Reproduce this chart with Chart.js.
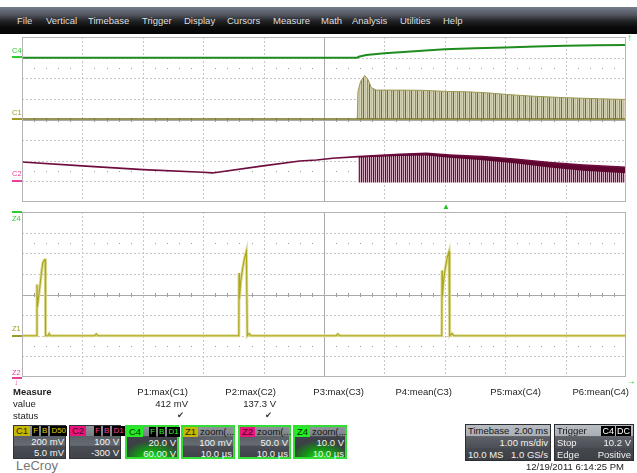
<!DOCTYPE html>
<html>
<head>
<meta charset="utf-8">
<script src="https://cdn.jsdelivr.net/npm/chart.js@4.4.1/dist/chart.umd.min.js"></script>
<style>
  body { margin: 0; width: 637px; height: 473px; position: relative; overflow: hidden; background: #fff;
         font-family: "Liberation Sans", Arial, sans-serif; font-size: 9.5px; color: #1c1c1c; }
  .t { position: absolute; white-space: nowrap; line-height: 11px; }
  .r { text-align: right; width: 90px; }
  #menu { position: absolute; left: 0; top: 7px; width: 637px; height: 27px;
          background: linear-gradient(#757d8d 0%, #50545d 30%, #222326 52%, #0b0b0b 75%, #050505 100%); }
  #menu span { position: absolute; top: 8px; color: #dedede; line-height: 11px; }
  canvas { position: absolute; }
  .lbl { position: absolute; font-size: 7.5px; line-height: 8px; }
  .bar { position: absolute; height: 2px; width: 10px; left: 12px; }
  .cb { position: absolute; top: 425px; height: 34px; box-sizing: border-box; border: 1px solid #33353a;
        background: linear-gradient(#8f939a 0, #7b7f86 30%, #5b5f66 32%, #666a71 60%, #4a4d53 64%, #404349 100%);
        color: #f4f4f4; }
  .cb.sel { border: 2px solid #33dd33; }
  .cb.glow { background: radial-gradient(ellipse 60% 55% at 50% 100%, #22e022 0%, #149a14 45%, rgba(20,120,20,0) 100%),
        linear-gradient(#8f939a 0, #7b7f86 30%, #40444a 32%, #33363b 100%); }
  .hd { position: absolute; left: 0; top: 0; height: 10px; display: flex; gap: 2px; }
  .tg { font-size: 9.5px; line-height: 10px; padding: 0 2px; }
  .sm { background: #000; font-size: 8px; line-height: 10px; padding: 0 1px; }
  .zt { color: #121212; line-height: 10px; }
  .v1 { position: absolute; right: 1px; top: 10px; line-height: 11px; }
  .v2 { position: absolute; right: 1px; top: 21px; line-height: 11px; }
  .ib { position: absolute; top: 424px; height: 37px; box-sizing: border-box; border: 1px solid #2b2d31;
        background: linear-gradient(#b9bdc4 0, #a9adb4 31%, #5e6168 33%, #4c4f55 64%, #45484e 67%, #3c3f44 100%); color: #f2f2f2; }
  .ib .a { position: absolute; left: 2px; line-height: 11px; }
  .ib .b { position: absolute; right: 2px; line-height: 11px; }
  .dk { color: #151515; }
</style>
</head>
<body>
<div id="menu">
  <span style="left:17px">File</span><span style="left:46px">Vertical</span><span style="left:88px">Timebase</span>
  <span style="left:142px">Trigger</span><span style="left:184px">Display</span><span style="left:227px">Cursors</span>
  <span style="left:273px">Measure</span><span style="left:321px">Math</span><span style="left:352px">Analysis</span>
  <span style="left:400px">Utilities</span><span style="left:443px">Help</span>
</div>

<canvas id="upper" width="606" height="167" style="left:21px;top:36px"></canvas>
<canvas id="lower" width="606" height="167" style="left:21px;top:211px"></canvas>

<div class="lbl" style="left:12px;top:47px;color:#2fcc2f">C4</div><div class="bar" style="top:56px;background:#2fcc2f"></div>
<div class="lbl" style="left:12px;top:109px;color:#9c9a20">C1</div><div class="bar" style="top:118px;background:#9c9a20"></div>
<div class="lbl" style="left:12px;top:170px;color:#e8409a">C2</div><div class="bar" style="top:180px;background:#e8409a"></div>
<div class="bar" style="top:211px;background:#2fcc2f"></div><div class="lbl" style="left:12px;top:215px;color:#2fcc2f">Z4</div>
<div class="lbl" style="left:12px;top:325px;color:#9c9a20">Z1</div><div class="bar" style="top:335px;background:#9c9a20"></div>
<div class="lbl" style="left:12px;top:369px;color:#e8409a">Z2</div><div class="bar" style="top:377px;background:#e8409a"></div>
<div class="lbl" style="left:14px;top:379px;color:#e8409a;font-size:8px">&#8595;</div>

<div class="t" style="left:442px;top:201px;color:#22c322;font-size:8px">&#9650;</div>
<div class="t" style="left:627px;top:32px;color:#22c322;font-size:10px;font-weight:bold">&#8593;</div>
<div class="t" style="left:626px;top:375px;color:#22c322;font-size:10px;font-weight:bold">&#8594;</div>

<div class="t" style="left:13px;top:386px;font-weight:bold">Measure</div>
<div class="t" style="left:13px;top:398px">value</div>
<div class="t" style="left:13px;top:410px">status</div>
<div class="t r" style="left:98px;top:386px">P1:max(C1)</div>
<div class="t r" style="left:186px;top:386px">P2:max(C2)</div>
<div class="t r" style="left:274px;top:386px">P3:max(C3)</div>
<div class="t r" style="left:362px;top:386px">P4:mean(C3)</div>
<div class="t r" style="left:451px;top:386px">P5:max(C4)</div>
<div class="t r" style="left:539px;top:386px">P6:mean(C4)</div>
<div class="t r" style="left:98px;top:398px">412 mV</div>
<div class="t r" style="left:186px;top:398px">137.3 V</div>
<div class="t" style="left:177px;top:410px;font-family:'DejaVu Sans';font-size:8.5px;color:#333">&#10004;</div>
<div class="t" style="left:265px;top:410px;font-family:'DejaVu Sans';font-size:8.5px;color:#333">&#10004;</div>

<div class="cb" style="left:13px;width:53px">
  <div class="hd"><span class="tg" style="background:#c8b700;color:#2b2700">C1</span><span class="sm" style="color:#e2d200">F</span><span class="sm" style="color:#e2d200">B</span><span class="sm" style="color:#e2d200">D50</span></div>
  <div class="v1">200 mV</div><div class="v2">5.0 mV</div>
</div>
<div class="cb" style="left:69px;width:52px">
  <div class="hd"><span class="tg" style="background:#e8167c;color:#4a0022">C2</span><span style="width:4px"></span><span class="sm" style="color:#ff3c9a">F</span><span class="sm" style="color:#ff3c9a">B</span><span class="sm" style="color:#ff3c9a">D1</span></div>
  <div class="v1">100 V</div><div class="v2">-300 V</div>
</div>
<div class="cb sel glow" style="left:125px;width:54px">
  <div class="hd"><span class="tg" style="background:#22ee22;color:#063006">C4</span><span style="width:2px"></span><span class="sm" style="color:#33ee33">F</span><span class="sm" style="color:#33ee33">B</span><span class="sm" style="color:#33ee33">D1</span></div>
  <div class="v1">20.0 V</div><div class="v2">60.00 V</div>
</div>
<div class="cb sel" style="left:181px;width:54px">
  <div class="hd"><span class="tg" style="background:#c8b700;color:#2b2700">Z1</span><span class="zt">zoom(...</span></div>
  <div class="v1">100 mV</div><div class="v2">10.0 &micro;s</div>
</div>
<div class="cb sel" style="left:238px;width:53px">
  <div class="hd"><span class="tg" style="background:#e8167c;color:#4a0022">Z2</span><span class="zt">zoom(...</span></div>
  <div class="v1">50.0 V</div><div class="v2">10.0 &micro;s</div>
</div>
<div class="cb sel glow" style="left:293px;width:54px">
  <div class="hd"><span class="tg" style="background:#22ee22;color:#063006">Z4</span><span class="zt">zoom(...</span></div>
  <div class="v1">10.0 V</div><div class="v2">10.0 &micro;s</div>
</div>

<div class="ib" style="left:465px;width:86px">
  <div class="a dk" style="top:0">Timebase</div><div class="b dk" style="top:0">2.00 ms</div>
  <div class="b" style="top:12px">1.00 ms/div</div>
  <div class="a" style="top:24px">10.0 MS</div><div class="b" style="top:24px">1.0 GS/s</div>
</div>
<div class="ib" style="left:554px;width:80px">
  <div class="a dk" style="top:0">Trigger</div>
  <div class="b" style="top:1px;display:flex;gap:1px"><span class="sm" style="color:#fff;font-size:9px">C4</span><span class="sm" style="color:#fff;font-size:9px">DC</span></div>
  <div class="a" style="top:12px">Stop</div><div class="b" style="top:12px">10.2 V</div>
  <div class="a" style="top:24px">Edge</div><div class="b" style="top:24px">Positive</div>
</div>

<div class="t" style="left:16px;top:459px;font-size:13px;line-height:14px;color:#757575">LeCroy</div>
<div class="t" style="left:504px;top:461px;width:120px;text-align:right">12/19/2011 6:14:25 PM</div>

<script>
// upper display: time in ms, trigger at 0
const c4Time  = [-14, -2.9, -2.85, -2.6, -2.0, -1.0, 0, 1, 2, 3, 4, 5, 6];
const c4Volts = [0, 0, 0.8, 2.5, 4.2, 6.2, 8.1, 9.0, 9.8, 10.7, 11.4, 11.9, 12.2];

const c1Time = [-14, 6];
const c1Mv   = [0, 0];
const c1BurstTime = [-2.9, -2.874, -2.785, -2.652, -2.543, -2.43, -2.265, -1.49, -0.732, 0.053, 0.715, 1.377, 2.04, 2.92, 4.03, 5.13, 6];
const c1BurstMv   = [0, 270, 367, 422, 383, 303, 280, 280, 278, 267, 264, 254, 238, 221, 206, 196, 189];

const c2Time  = [-14, -12.01, -9.99, -8.01, -7.69, -6.02, -4.8, -4.25, -3.71, -2.87, -1.49, -0.61, 0.16, 1.26, 2.37, 3.47, 4.58, 6];
const c2Volts = [94, 75, 57, 44, 41, 75, 99, 104, 112, 120, 131, 136, 128, 120, 107, 91, 79, 68];
const c2BurstStart = -2.87;
const c2BandV = [4, 8, 10, 14, 18, 20, 24, 27, 29]; // thickness of the dark band under the burst envelope

// lower display: zoom Z1, time in us
const z1Time = [0, 4.3, 4.5, 4.7, 12, 12.3, 12.6, 2.45, 2.48, 2.55, 2.8, 3.0, 3.2, 3.45, 3.75, 3.85, 3.9,
                35.9, 35.93, 36.0, 36.2, 36.5, 36.8, 37.15, 37.25, 37.3, 37.6, 37.9, 52, 52.3, 52.6,
                69.5, 69.54, 69.6, 69.8, 70.1, 70.4, 70.7, 70.78, 70.82, 71.2, 71.5, 100];
const z1Mv   = [0, 0, 10, 0, 0, 8, 0, 0, 248, 140, 200, 248, 301, 354, 369, 369, 0,
                0, 304, 180, 260, 320, 370, 409, 409, 0, 10, 0, 0, 8, 0,
                0, 316, 190, 270, 330, 380, 408, 408, 0, 10, 0, 0];

// vertical settings -> divisions on screen
const c1Div = mv => (mv + 5) / 200;
const c2Div = v => (v - 300) / 100;
const c4Div = v => (v + 60) / 20;
const z1Div = mv => mv / 100 - 2;

const pts = (xs, ys, f) => xs.map((t, i) => ({ x: t, y: f(ys[i]) })).sort((a, b) => a.x - b.x);

function stripes(cols) {
    const c = document.createElement('canvas');
    c.width = cols.length; c.height = 1;
    const g = c.getContext('2d');
    cols.forEach((col, i) => { g.fillStyle = col; g.fillRect(i, 0, 1, 1); });
    return g.createPattern(c, 'repeat');
}

// scope graticule: dotted divisions, solid centre lines, minor ticks, frame
const graticule = {
    id: 'graticule',
    beforeDatasetsDraw(chart) {
        const { ctx, chartArea: a, scales: { x, y } } = chart;
        const xs = i => x.getPixelForValue(x.min + i * (x.max - x.min) / 10);
        const ys = j => y.getPixelForValue(y.min + j * (y.max - y.min) / 8);
        ctx.save();
        ctx.lineWidth = 1;
        ctx.strokeStyle = '#c6c6c6';
        ctx.setLineDash([2, 2]);
        for (let i = 1; i < 10; i++) {
            if (i === 5) continue;
            const px = Math.round(xs(i)) + 0.5;
            ctx.beginPath(); ctx.moveTo(px, a.top); ctx.lineTo(px, a.bottom); ctx.stroke();
        }
        for (let j = 1; j < 8; j++) {
            if (j === 4) continue;
            const py = Math.round(ys(j)) + 0.5;
            ctx.beginPath(); ctx.moveTo(a.left, py); ctx.lineTo(a.right, py); ctx.stroke();
        }
        ctx.setLineDash([]);
        ctx.strokeStyle = '#a9a9a9';
        const cx = Math.round(xs(5)) + 0.5, cy = Math.round(ys(4)) + 0.5;
        ctx.beginPath(); ctx.moveTo(cx, a.top); ctx.lineTo(cx, a.bottom);
        ctx.moveTo(a.left, cy); ctx.lineTo(a.right, cy); ctx.stroke();
        ctx.fillStyle = '#9a9a9a';
        const r1 = Math.round(y.getPixelForValue(2.5)), r2 = Math.round(y.getPixelForValue(-2.5));
        for (let k = 1; k < 50; k++) {
            if (k % 5 === 0) continue;
            const px = Math.round(xs(k / 5));
            ctx.fillRect(px, cy - 2.5, 1, 4);
            ctx.fillRect(px, r1, 1, 1);
            ctx.fillRect(px, r2, 1, 1);
        }
        ctx.restore();
    },
    afterDraw(chart) {
        const { ctx, chartArea: a } = chart;
        ctx.save();
        ctx.strokeStyle = '#b4b4b4';
        ctx.lineWidth = 1;
        ctx.strokeRect(Math.round(a.left) + 0.5, Math.round(a.top) + 0.5, Math.round(a.width) - 1, Math.round(a.height) - 1);
        ctx.restore();
    }
};

const baseOptions = (xmin, xmax) => ({
    responsive: false,
    animation: false,
    events: [],
    layout: { padding: 1 },
    elements: { point: { radius: 0 }, line: { tension: 0 } },
    plugins: { legend: { display: false }, tooltip: { enabled: false } },
    scales: {
        x: { type: 'linear', display: false, min: xmin, max: xmax },
        y: { type: 'linear', display: false, min: -4, max: 4 }
    }
});

document.addEventListener('DOMContentLoaded', function () {
    const c2Burst = pts(c2Time, c2Volts, c2Div).filter(p => p.x >= c2BurstStart);
    const c2Band = c2Burst.map((p, i) => ({ x: p.x, y: p.y - c2BandV[i] / 100 }));

    new Chart(document.getElementById('upper'), {
        type: 'line',
        data: {
            datasets: [
                { label: 'C4', data: pts(c4Time, c4Volts, c4Div), borderColor: '#1f8c1f', borderWidth: 2, fill: false, order: 1 },
                { label: 'C1 burst', data: pts(c1BurstTime, c1BurstMv, c1Div), borderColor: '#9a9850', borderWidth: 1,
                  backgroundColor: stripes(['#767320', '#d0ceae', '#c2c098', '#d8d6ba', '#94914a', '#cccaa6']),
                  fill: { value: c1Div(0) }, order: 6 },
                { label: 'C1', data: pts(c1Time, c1Mv, c1Div), borderColor: '#74721c', borderWidth: 1.5, fill: false, order: 2 },
                { label: 'C2 burst', data: c2Burst, borderWidth: 0,
                  backgroundColor: stripes(['#620634', '#cfa3b9', '#7c1a4c', '#ddb9c9']), fill: { value: c2Div(-6) }, order: 7 },
                { label: 'C2 band', data: c2Band, borderWidth: 0, backgroundColor: '#5e0630', fill: 5, order: 5 },
                { label: 'C2', data: pts(c2Time, c2Volts, c2Div), borderColor: '#6e0c3e', borderWidth: 1.6, fill: false, order: 3 }
            ]
        },
        options: baseOptions(-14, 6),
        plugins: [graticule]
    });

    new Chart(document.getElementById('lower'), {
        type: 'line',
        data: {
            datasets: [
                { label: 'Z1', data: pts(z1Time, z1Mv, z1Div), borderColor: '#aca81e', borderWidth: 1.2, fill: false, order: 1 },
                { label: 'Z1 persist', data: pts(z1Time, z1Mv, z1Div), borderColor: '#e0dd9c', borderWidth: 3, fill: false, order: 2 }
            ]
        },
        options: baseOptions(0, 100),
        plugins: [graticule]
    });
});
</script>
</body>
</html>
